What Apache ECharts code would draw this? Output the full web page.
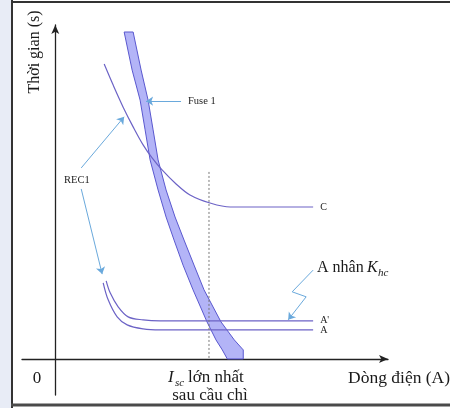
<!DOCTYPE html>
<html>
<head>
<meta charset="utf-8">
<script src="https://cdn.jsdelivr.net/npm/echarts@6/dist/echarts.min.js"></script>
<style>
  html, body { margin: 0; padding: 0; background: #fff; }
  #chart { width: 450px; height: 408px; }
</style>
</head>
<body>
<div id="chart"></div>
<script>
// schematic coordinates (arbitrary units, 0..100 on both axes)
var fuseLeft = [[20.7, 97.9], [23.1, 86.5], [25.5, 77.5], [27.0, 68.6], [28.5, 59.6], [30.9, 50.6],
  [33.3, 42.5], [35.7, 35.6], [38.4, 28.1], [41.4, 20.7], [45.6, 11.1], [48.3, 5.7], [50.2, 2.7], [51.7, 0]];
var fuseRight = [[23.4, 97.9], [25.8, 86.5], [27.9, 77.5], [29.4, 68.6], [30.9, 59.6], [33.3, 50.6],
  [36.0, 42.5], [38.7, 35.6], [41.7, 28.1], [44.7, 20.7], [49.8, 11.1], [53.8, 5.7], [56.5, 2.7], [56.5, 0]];
var curveC = [[14.7, 88.3], [17.4, 82.0], [20.4, 75.4], [23.4, 69.5], [26.4, 64.1], [29.1, 60.2],
  [32.1, 56.6], [36.0, 52.7], [40.5, 49.1], [46.5, 46.7], [52.6, 45.5], [77.5, 45.5]];
var curveA2 = [[15.3, 23.4], [16.5, 19.8], [18.9, 15.6], [21.9, 12.6], [26.4, 11.7], [31.5, 11.4], [77.5, 11.4]];
var curveA = [[14.4, 22.8], [15.9, 17.7], [18.6, 12.6], [21.6, 10.2], [26.4, 9.0], [31.5, 8.7], [77.5, 8.7]];
var iscLine = [[46.2, 56], [46.2, 0]];
var arrowFuse = [[37.8, 77.2], [27.3, 77.2]];
var arrowRecUp = [[7.8, 57.2], [20.7, 72.5]];
var arrowRecDown = [[7.8, 50.9], [14.1, 25.4]];
var zigzagKhc = [[77.5, 26.6], [71.2, 20.1], [75.4, 18.6]];
var arrowKhc = [[75.4, 18.6], [70.0, 11.7]];

var serif = "'Liberation Serif', 'DejaVu Serif', serif";
var curveColor = '#6c63c6';
var noteColor = '#6aa9dc';

var chart = echarts.init(document.getElementById('chart'), null, { renderer: 'canvas' });

function curve(data, label) {
  return {
    type: 'line',
    data: data,
    smooth: 0.35,
    showSymbol: false,
    silent: true,
    lineStyle: { color: curveColor, width: 1.2 },
    endLabel: {
      show: true,
      formatter: label,
      distance: 7,
      fontFamily: serif,
      fontSize: 10,
      color: '#222'
    }
  };
}

var noteStyle = { color: noteColor, width: 1, opacity: 1 };

var option = {
  animation: false,
  backgroundColor: '#fff',
  grid: { left: 22, right: 62, top: 25, bottom: 13 },
  xAxis: {
    type: 'value', min: -10, max: 100,
    axisLine: { onZero: true, symbol: ['none', 'arrow'], symbolSize: [6, 9], lineStyle: { color: '#222', width: 1.3 } },
    axisTick: { show: false }, axisLabel: { show: false }, splitLine: { show: false }
  },
  yAxis: {
    type: 'value', min: -10.8, max: 100,
    axisLine: { onZero: true, symbol: ['none', 'arrow'], symbolSize: [6, 9], lineStyle: { color: '#222', width: 1.3 } },
    axisTick: { show: false }, axisLabel: { show: false }, splitLine: { show: false }
  },
  series: [
    {
      type: 'custom',
      silent: true,
      data: [[0, 0]],
      renderItem: function (params, api) {
        var pts = fuseLeft.concat(fuseRight.slice().reverse()).map(function (p) { return api.coord(p); });
        return {
          type: 'polygon',
          shape: { points: pts },
          style: { fill: '#b3b4f7', stroke: '#5a58cf', lineWidth: 1, lineJoin: 'round' }
        };
      }
    },
    curve(curveC, 'C'),
    curve(curveA2, "A'"),
    curve(curveA, 'A'),
    {
      type: 'line',
      data: iscLine,
      showSymbol: false,
      silent: true,
      lineStyle: { color: '#777', width: 1, type: [2, 2] }
    },
    {
      type: 'lines',
      coordinateSystem: 'cartesian2d',
      silent: true,
      symbol: ['none', 'arrow'],
      symbolSize: 7,
      lineStyle: noteStyle,
      data: [
        { coords: arrowFuse },
        { coords: arrowRecUp },
        { coords: arrowRecDown },
        { coords: arrowKhc }
      ]
    },
    {
      type: 'lines',
      coordinateSystem: 'cartesian2d',
      polyline: true,
      silent: true,
      lineStyle: noteStyle,
      data: [{ coords: zigzagKhc }]
    }
  ],
  graphic: [
    { type: 'rect', shape: { x: 0, y: 0, width: 11, height: 408 }, style: { fill: '#e8ecf6' } },
    { type: 'line', shape: { x1: 12, y1: 0, x2: 12, y2: 408 }, style: { stroke: '#333', lineWidth: 2 } },
    { type: 'line', shape: { x1: 11, y1: 2, x2: 450, y2: 2 }, style: { stroke: '#333', lineWidth: 2 } },
    { type: 'line', shape: { x1: 11, y1: 405, x2: 450, y2: 405 }, style: { stroke: '#4a4a4a', lineWidth: 3 } },
    {
      type: 'text', x: 35, y: 52, rotation: Math.PI / 2,
      style: { text: 'Thời gian (s)', font: '16px ' + serif, fill: '#1a1a1a', align: 'center', verticalAlign: 'middle' }
    },
    { type: 'text', x: 37, y: 379, style: { text: '0', font: '17px ' + serif, fill: '#1a1a1a', align: 'center', verticalAlign: 'middle' } },
    { type: 'text', x: 188, y: 101, style: { text: 'Fuse 1', font: '10.5px ' + serif, fill: '#222', verticalAlign: 'middle' } },
    { type: 'text', x: 64, y: 180, style: { text: 'REC1', font: '10.5px ' + serif, fill: '#222', verticalAlign: 'middle' } },
    { type: 'text', x: 317, y: 268, style: { text: 'A nhân', font: '16px ' + serif, fill: '#1a1a1a', verticalAlign: 'middle' } },
    { type: 'text', x: 367, y: 268, style: { text: 'K', font: 'italic 16px ' + serif, fill: '#1a1a1a', verticalAlign: 'middle' } },
    { type: 'text', x: 378, y: 273, style: { text: 'hc', font: 'italic 11px ' + serif, fill: '#1a1a1a', verticalAlign: 'middle' } },
    { type: 'text', x: 168, y: 378, style: { text: 'I', font: 'italic 17px ' + serif, fill: '#1a1a1a', verticalAlign: 'middle' } },
    { type: 'text', x: 175, y: 383, style: { text: 'sc', font: 'italic 11px ' + serif, fill: '#1a1a1a', verticalAlign: 'middle' } },
    { type: 'text', x: 188, y: 378, style: { text: 'lớn nhất', font: '17px ' + serif, fill: '#1a1a1a', verticalAlign: 'middle' } },
    { type: 'text', x: 210, y: 396, style: { text: 'sau cầu chì', font: '17px ' + serif, fill: '#1a1a1a', align: 'center', verticalAlign: 'middle' } },
    { type: 'text', x: 348, y: 378, style: { text: 'Dòng điện (A)', font: '17.5px ' + serif, fill: '#1a1a1a', verticalAlign: 'middle' } }
  ]
};

chart.setOption(option);
</script>
</body>
</html>
